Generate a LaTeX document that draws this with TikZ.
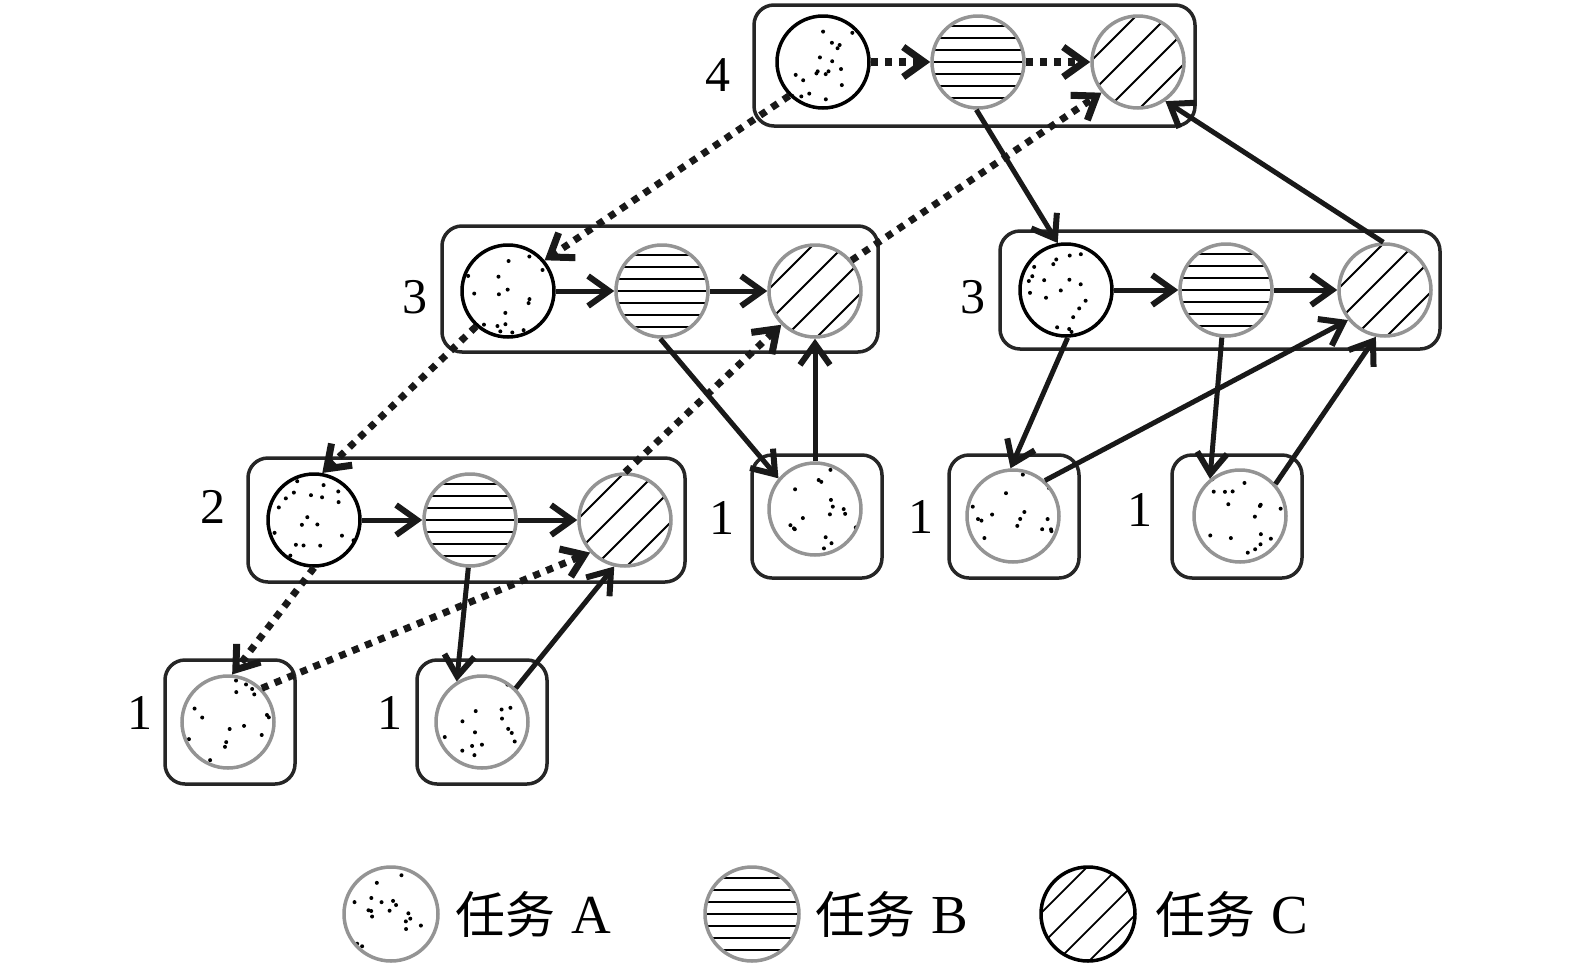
\documentclass[tikz,border=0pt]{standalone}
\usepackage{fontspec}
\setmainfont{Liberation Serif}
\newfontfamily\cjk{Noto Sans CJK SC}
\usetikzlibrary{arrows.meta}
\begin{document}
\begin{tikzpicture}[x=1pt,y=-1pt,
  box/.style={draw=black!85, line width=3.5pt, rounded corners=20pt, inner sep=0pt},
  circ/.style={circle, minimum size=92pt, inner sep=0pt, line width=3.5pt, draw=black!42},
  dotsfill/.style={path picture={\foreach \i in {1,...,20}{\pgfmathsetmacro\rx{rand*42}\pgfmathsetmacro\ry{rand*42}\fill[black, shift={(path picture bounding box.center)}] (\rx,\ry) circle (2);}}},
  hlines/.style={path picture={\foreach \d in {-36,-24,...,36}{\draw[black, line width=2pt, shift={(path picture bounding box.center)}] (-55,\d) -- (55,\d);}}},
  dlines/.style={path picture={\foreach \d in {-24,-8,8,24}{\draw[black, line width=1.8pt, shift={(path picture bounding box.center)}] (-60+\d,60+\d) -- (60+\d,-60+\d);}}},
  leafA/.style={circ, dotsfill},
  grpA/.style={circ, dotsfill, draw=black},
  taskB/.style={circ, hlines},
  taskC/.style={circ, dlines},
  lab/.style={inner sep=0pt, font=\fontsize{50}{60}\selectfont},
  sarrow/.style={draw=black!90, line width=5pt, -{Straight Barb[length=21pt,width=30pt,line width=6pt]}},
  darrow/.style={draw=black!90, line width=7pt, dash pattern=on 7pt off 7pt, -{Straight Barb[length=21pt,width=30pt,line width=7pt]}},
  legtext/.style={anchor=base west, inner sep=0pt, font=\fontsize{55}{60}\selectfont}
]
\pgfmathsetseed{7}
\useasboundingbox (0,0) rectangle (1575,970);
\fill[white] (0,0) rectangle (1575,970);

% boxes
\node[box, minimum width=441pt, minimum height=121pt] (T) at (974.5,65.5) {};
\node[box, minimum width=436pt, minimum height=126pt] (ML) at (660,289) {};
\node[box, minimum width=440pt, minimum height=118pt] (MR) at (1220,290) {};
\node[box, minimum width=437pt, minimum height=124pt] (G) at (466.5,520) {};
\node[box, minimum width=130pt, minimum height=123pt] (L1) at (817,516.5) {};
\node[box, minimum width=130pt, minimum height=123pt] (L2) at (1014,516.5) {};
\node[box, minimum width=130pt, minimum height=123pt] (L3) at (1237,516.5) {};
\node[box, minimum width=130pt, minimum height=124pt] (L4) at (230,722) {};
\node[box, minimum width=130pt, minimum height=124pt] (L5) at (482,722) {};

% circles
\node[grpA] (tA) at (823,62) {};
\node[taskB] (tB) at (978,62) {};
\node[taskC] (tC) at (1138,62) {};
\node[grpA] (mlA) at (508,291) {};
\node[taskB] (mlB) at (662,291) {};
\node[taskC] (mlC) at (815,291) {};
\node[grpA] (mrA) at (1066,290) {};
\node[taskB] (mrB) at (1226,290) {};
\node[taskC] (mrC) at (1385,290) {};
\node[grpA] (gA) at (314,520) {};
\node[taskB] (gB) at (470,520) {};
\node[taskC] (gC) at (625,520) {};
\node[leafA] (l1) at (815,509) {};
\node[leafA] (l2) at (1013,516) {};
\node[leafA] (l3) at (1240,516) {};
\node[leafA] (l4) at (228,722) {};
\node[leafA] (l5) at (482,722) {};

% labels
\node[lab] (n4) at (718,75) {4};
\node[lab] (n3a) at (415,297) {3};
\node[lab] (n3b) at (973,297) {3};
\node[lab] (n2) at (213,507) {2};
\node[lab] (n1a) at (722,518) {1};
\node[lab] (n1b) at (921,517) {1};
\node[lab] (n1c) at (1140,510) {1};
\node[lab] (n1d) at (140,713) {1};
\node[lab] (n1e) at (390,713) {1};

% connectors
\draw[darrow, line width=8pt] (tA) -- (tB);
\draw[darrow, line width=8pt] (tB) -- (tC);
\draw[darrow] (tA.225) -- (mlA.40);
\draw[darrow] (mlC.40) -- (tC.220);
\draw[sarrow] (tB.-92) -- (mrA.100);
\draw[sarrow] (mrC.92) -- (tC.-55);
\draw[sarrow] (mlA) -- (mlB);
\draw[sarrow] (mlB) -- (mlC);
\draw[darrow] (mlA.228) -- (gA.80);
\draw[darrow] (gC.90) -- (mlC.225);
\draw[sarrow] (mlB.-92) -- (l1.140);
\draw[sarrow] (l1.90) -- (mlC.-90);
\draw[sarrow] (mrA) -- (mrB);
\draw[sarrow] (mrB) -- (mrC);
\draw[sarrow] (mrA.-88) -- (l2.93);
\draw[sarrow] (l2.48) -- (mrC.219);
\draw[sarrow] (mrB.-95) -- (l3.129);
\draw[sarrow] (l3.42) -- (mrC.-101);
\draw[sarrow] (gA) -- (gB);
\draw[sarrow] (gB) -- (gC);
\draw[darrow] (gA.-90) -- (l4.85);
\draw[darrow] (l4.45) -- (gC.223);
\draw[sarrow] (gB.-92) -- (l5.122);
\draw[sarrow] (l5.45) -- (gC.-103);

% legend
\node[circ, dotsfill, minimum size=94pt] (kA) at (391,914) {};
\node[circ, hlines, minimum size=94pt] (kB) at (752,914) {};
\node[circ, dlines, draw=black, minimum size=94pt] (kC) at (1088,914) {};
\node[legtext] (tkA) at (455,933) {{\cjk\fontsize{50}{60}\selectfont 任务}\hspace{0.3em}A};
\node[legtext] (tkB) at (815,933) {{\cjk\fontsize{50}{60}\selectfont 任务}\hspace{0.3em}B};
\node[legtext] (tkC) at (1155,933) {{\cjk\fontsize{50}{60}\selectfont 任务}\hspace{0.3em}C};
\end{tikzpicture}
\end{document}
